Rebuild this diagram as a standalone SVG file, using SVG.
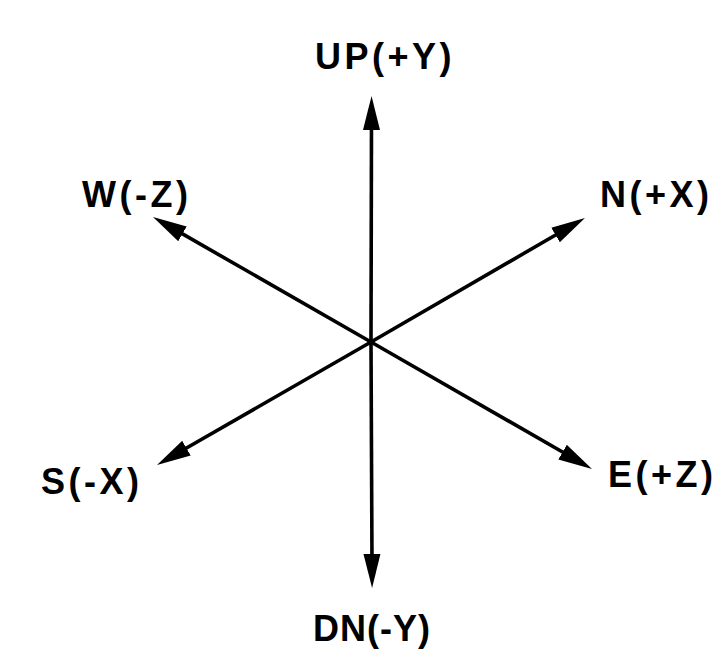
<svg xmlns="http://www.w3.org/2000/svg" width="727" height="669" viewBox="0 0 727 669">
<style>
.lbl{font-family:"Liberation Sans","DejaVu Sans",sans-serif;font-weight:bold;font-size:36px;fill:#000;letter-spacing:3.5px}
.ax{stroke:#000;stroke-width:3.6;fill:none;marker-end:url(#ah)}
</style>
<defs>
<marker id="ah" markerUnits="userSpaceOnUse" markerWidth="40" markerHeight="24" viewBox="0 -12 40 24" refX="10" refY="0" orient="auto">
<path d="M34,0 L0,-8.5 L0,8.5 Z" fill="#000"/>
</marker>
</defs>
<rect width="727" height="669" fill="#fff"/>
<g id="connectors">
<line class="ax" x1="371" y1="342" x2="371.5" y2="120"/>
<line class="ax" x1="371" y1="342" x2="372" y2="564"/>
<line class="ax" x1="371" y1="342" x2="173.8" y2="228.9"/>
<line class="ax" x1="371" y1="342" x2="564.2" y2="230"/>
<line class="ax" x1="371" y1="342" x2="177.8" y2="453"/>
<line class="ax" x1="371" y1="342" x2="571.2" y2="457"/>
</g>
<g id="up"><text class="lbl" x="315" y="69">UP(+Y)</text></g>
<g id="dn"><text class="lbl" x="313" y="641" style="letter-spacing:1px">DN(-Y)</text></g>
<g id="w"><text class="lbl" x="82" y="207">W(-Z)</text></g>
<g id="n"><text class="lbl" x="600" y="207">N(+X)</text></g>
<g id="s"><text class="lbl" x="41" y="494">S(-X)</text></g>
<g id="e"><text class="lbl" x="608" y="487">E(+Z)</text></g>
</svg>
